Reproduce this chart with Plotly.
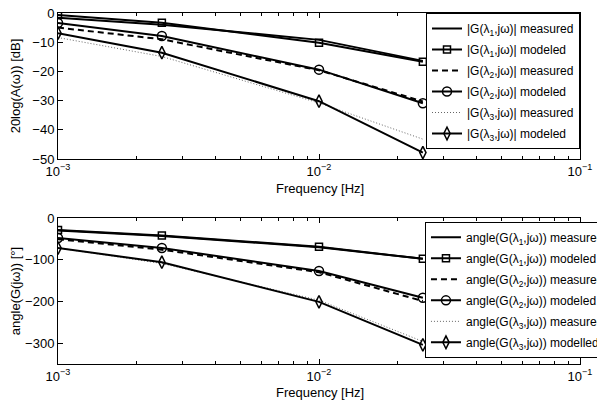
import plotly.graph_objects as go
from plotly.subplots import make_subplots

freq = [0.001, 0.0025, 0.01, 0.025]

mag1_meas = [-1.6, -4.0, -9.2, -16.4]
mag1_mod = [-0.7, -3.3, -10.2, -16.7]
mag2_meas = [-5.0, -9.0, -19.6, -30.3]
mag2_mod = [-3.4, -7.9, -19.4, -30.9]
mag3_meas = [-8.4, -14.9, -30.8, -43.2]
mag3_mod = [-6.9, -13.6, -30.2, -47.8]

ph1_meas = [-30, -43, -70, -98]
ph1_mod = [-29, -42, -69, -98]
ph2_meas = [-51, -76, -130, -199]
ph2_mod = [-48, -72, -127, -191]
ph3_meas = [-72, -109, -197, -296]
ph3_mod = [-72, -106, -201, -304]

top_labels = [
    "|G(λ<sub>1</sub>,jω)| measured", "|G(λ<sub>1</sub>,jω)| modeled",
    "|G(λ<sub>2</sub>,jω)| measured", "|G(λ<sub>2</sub>,jω)| modeled",
    "|G(λ<sub>3</sub>,jω)| measured", "|G(λ<sub>3</sub>,jω)| modeled",
]
bot_labels = [
    "angle(G(λ<sub>1</sub>,jω)) measured", "angle(G(λ<sub>1</sub>,jω)) modeled",
    "angle(G(λ<sub>2</sub>,jω)) measured", "angle(G(λ<sub>2</sub>,jω)) modeled",
    "angle(G(λ<sub>3</sub>,jω)) measured", "angle(G(λ<sub>3</sub>,jω)) modelled",
]

x_tickvals = [0.001, 0.01, 0.1]
x_ticktext = ["10<sup>−3</sup>", "10<sup>−2</sup>", "10<sup>−1</sup>"]
minor_vals = [m * d for d in (0.001, 0.01) for m in range(2, 10)]

FONT = "Liberation Sans, Arial, sans-serif"

fig = make_subplots(rows=2, cols=1, vertical_spacing=0.168)

styles = [
    dict(mode="lines", line=dict(color="black", width=2)),
    dict(mode="lines+markers", line=dict(color="black", width=2),
         marker=dict(symbol="square-open", size=7, color="black", line=dict(width=1.5))),
    dict(mode="lines", line=dict(color="black", width=2, dash="6px,4px")),
    dict(mode="lines+markers", line=dict(color="black", width=2),
         marker=dict(symbol="circle-open", size=9, color="black", line=dict(width=1.5))),
    dict(mode="lines", line=dict(color="#666666", width=1, dash="1px,2px")),
    dict(mode="lines+markers", line=dict(color="black", width=2),
         marker=dict(symbol="diamond-tall-open", size=9, color="black", line=dict(width=1.5))),
]

top_series = [mag1_meas, mag1_mod, mag2_meas, mag2_mod, mag3_meas, mag3_mod]
bot_series = [ph1_meas, ph1_mod, ph2_meas, ph2_mod, ph3_meas, ph3_mod]

for i, (ys, lab) in enumerate(zip(top_series, top_labels)):
    fig.add_trace(go.Scatter(x=freq, y=ys, name=lab, legend="legend",
                             legendgroup=f"t{i}", **styles[i]), row=1, col=1)
for i, (ys, lab) in enumerate(zip(bot_series, bot_labels)):
    fig.add_trace(go.Scatter(x=freq, y=ys, name=lab, legend="legend2",
                             legendgroup=f"b{i}", **styles[i]), row=2, col=1)

axis_common = dict(showline=True, linecolor="black", linewidth=1, mirror="ticks",
                   ticks="inside", ticklen=5, tickcolor="black", showgrid=False,
                   zeroline=False, automargin=False, ticklabeloverflow="allow",
                   tickfont=dict(size=13, color="black", family=FONT))

for r in (1, 2):
    fig.update_xaxes(type="log", range=[-3, -1], tickvals=x_tickvals, ticktext=x_ticktext,
                     minor=dict(ticks="inside", ticklen=3, tickcolor="black", tickvals=minor_vals),
                     row=r, col=1, **axis_common)

fig.update_yaxes(range=[-50, 0], tickvals=[-50, -40, -30, -20, -10, 0],
                 title=dict(text="20log(A(ω)) [dB]", font=dict(size=13, color="black", family=FONT),
                            standoff=11),
                 row=1, col=1, **axis_common)
fig.update_yaxes(range=[-350, 0], tickvals=[-300, -200, -100, 0],
                 title=dict(text="angle(G(jω)) [°]", font=dict(size=13, color="black", family=FONT),
                            standoff=11),
                 row=2, col=1, **axis_common)

for yp in (0.4986, -0.0798):
    fig.add_annotation(text="Frequency [Hz]", xref="paper", yref="paper", x=0.502, y=yp,
                       xanchor="center", yanchor="middle", showarrow=False,
                       font=dict(size=13, color="black", family=FONT))

fig.update_layout(
    width=640, height=405,
    margin=dict(l=50, r=68, t=5, b=49, autoexpand=False),
    paper_bgcolor="white", plot_bgcolor="white",
    font=dict(family=FONT, color="black", size=12),
    showlegend=True,
    legend=dict(x=1, xanchor="right", y=1, yanchor="top", bgcolor="white",
                bordercolor="black", borderwidth=1, tracegroupgap=2, itemwidth=30,
                font=dict(size=12, family=FONT, color="black")),
    legend2=dict(x=0.703, xanchor="left", y=0.405, yanchor="top", bgcolor="white",
                 bordercolor="black", borderwidth=1, tracegroupgap=2, itemwidth=30,
                 font=dict(size=12, family=FONT, color="black")),
)
fig.layout.yaxis.domain = [0.584, 1.0]
fig.layout.yaxis2.domain = [0.0, 0.416]

fig.write_html("out.html")
